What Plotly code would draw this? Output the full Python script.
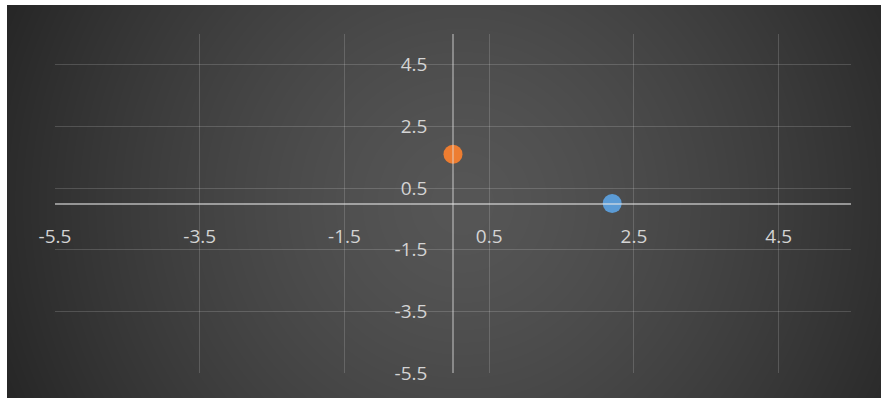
import base64
import struct
import zlib

import numpy as np
import plotly.graph_objects as go

# ---- data ----
series_names = ["Series A", "Series B"]
x_values = [2.2, 0.0]
y_values = [0.0, 1.6]
series_colors = ["#5B9BD5", "#ED7D31"]

tick_values = [-5.5, -3.5, -1.5, 0.5, 2.5, 4.5]
tick_labels = ["-5.5", "-3.5", "-1.5", "0.5", "2.5", "4.5"]

W, H = 881, 398


# ---- radial gradient background (PNG data URI) ----
def gradient_png(w, h, cx, cy, c0, c1, radius, power):
    yy, xx = np.mgrid[0:h, 0:w]
    d = np.sqrt((xx - cx) ** 2 + (yy - cy) ** 2) / radius
    d = np.clip(d, 0, 1.2)
    v = c0 - (c0 - c1) * d ** power
    v = np.clip(v, 0, 255).astype(np.uint8)
    raw = b"".join(b"\x00" + v[r].tobytes() for r in range(h))

    def chunk(tag, data):
        c = struct.pack(">I", len(data)) + tag + data
        return c + struct.pack(">I", zlib.crc32(tag + data) & 0xFFFFFFFF)

    png = b"\x89PNG\r\n\x1a\n"
    png += chunk(b"IHDR", struct.pack(">IIBBBBB", w, h, 8, 0, 0, 0, 0))
    png += chunk(b"IDAT", zlib.compress(raw, 9))
    png += chunk(b"IEND", b"")
    return "data:image/png;base64," + base64.b64encode(png).decode()


bg_left, bg_top = 7, 5
bg_w, bg_h = W - bg_left, H - bg_top
bg_src = gradient_png(bg_w, bg_h, 455, 198, 86, 39, 493, 1.4)

# plot area in pixels
pl, pr, pt, pb = 55, 30, 34, 25
pw, ph = W - pl - pr, H - pt - pb

fig = go.Figure()
for name, xv, yv, col in zip(series_names, x_values, y_values, series_colors):
    fig.add_trace(
        go.Scatter(
            x=[xv],
            y=[yv],
            mode="markers",
            name=name,
            marker=dict(size=19, color=col, line=dict(width=0)),
            showlegend=False,
        )
    )

grid_col = "rgba(255,255,255,0.16)"
line_col = "rgba(230,230,230,0.55)"
tick_font = dict(family="Open Sans, Liberation Sans, sans-serif", size=19, color="#d4d4d4")

fig.update_layout(
    width=W,
    height=H,
    margin=dict(l=pl, r=pr, t=pt, b=pb, pad=0),
    paper_bgcolor="white",
    plot_bgcolor="rgba(0,0,0,0)",
    images=[
        dict(
            source=bg_src,
            xref="paper",
            yref="paper",
            x=(bg_left - pl) / pw,
            y=(H - pb - bg_top) / ph,
            sizex=bg_w / pw,
            sizey=bg_h / ph,
            xanchor="left",
            yanchor="top",
            sizing="stretch",
            layer="below",
        )
    ],
    xaxis=dict(
        range=[-5.5, 5.5],
        tickmode="array",
        tickvals=tick_values,
        ticktext=tick_labels,
        showgrid=True,
        gridcolor=grid_col,
        gridwidth=1,
        zeroline=False,
        showline=True,
        linecolor=line_col,
        linewidth=1.5,
        anchor="free",
        position=0.5,
        ticks="",
        tickfont=tick_font,
        ticklabelstandoff=16,
        fixedrange=True,
    ),
    yaxis=dict(
        range=[-5.5, 5.5],
        tickmode="array",
        tickvals=tick_values,
        ticktext=tick_labels,
        showgrid=True,
        gridcolor=grid_col,
        gridwidth=1,
        zeroline=False,
        showline=True,
        linecolor="rgba(230,230,230,0.4)",
        linewidth=1.5,
        anchor="free",
        position=0.5,
        ticks="",
        tickfont=tick_font,
        ticklabelstandoff=21,
        fixedrange=True,
    ),
)

fig.write_html("out.html")
